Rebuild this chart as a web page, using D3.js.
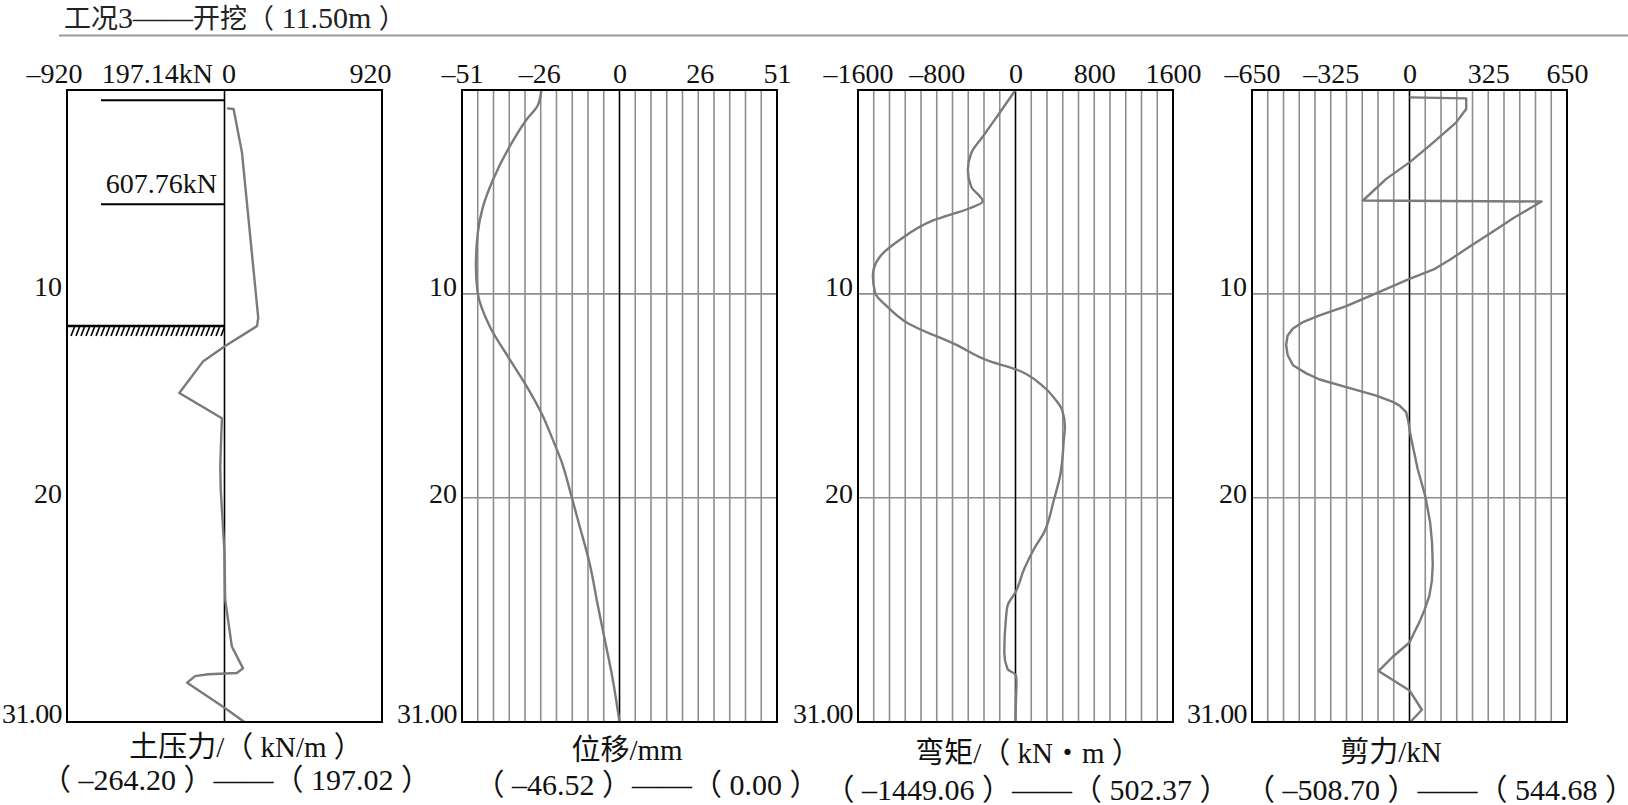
<!DOCTYPE html>
<html><head><meta charset="utf-8">
<script src="https://cdn.jsdelivr.net/npm/d3@7"></script>
<style>body{margin:0;background:#fff}</style>
</head><body><svg id="c" width="1628" height="805"></svg>
<script>
// ---------------- data ----------------
const title = "工况3——开挖（ 11.50m ）";
const depthTicks = [10, 20, 31];
const depthMax = 31;

const panelTitles = ["土压力/（ kN/m ）", "位移/mm", "弯矩/（ kN・m ）", "剪力/kN"];
const panelMin = ["–264.20", "–46.52", "–1449.06", "–508.70"];
const panelMax = ["197.02", "0.00", "502.37", "544.68"];
const panelLimits = [920, 51, 1600, 650];
const panelTicks = [[-920, 0, 920], [-51, -26, 0, 26, 51], [-1600, -800, 0, 800, 1600], [-650, -325, 0, 325, 650]];

const strutDepth = [0.5, 5.6];
const strutLabels = ["197.14kN", "607.76kN"];
const excavationDepth = 11.5;

// soil pressure (kN/m)
const soilDepth = [0.9, 0.93, 3.06, 11.17, 11.58, 12.56, 13.3, 14.86, 16.1, 17.2, 18.46, 19.6, 20.6, 22.7, 25.0, 27.3, 28.37, 28.6, 28.66, 28.75, 29.07, 30.3, 31.0];
const soilValue = [14, 53, 102, 197, 190, 4, -124, -264, -15, -20, -25, -22, -15, 0, 4, 43, 108, 72, -94, -172, -218, 0, 116];

// displacement (mm)
const dispDepth = [0, 0.73, 1.47, 2.78, 4.41, 5.72, 7.02, 8.66, 9.96, 11.6, 13.2, 14.5, 16.0, 17.15, 18.3, 19.9, 21.4, 23.2, 25.3, 27.3, 28.9, 31];
const dispValue = [-25.3, -26.4, -30.2, -35.6, -41.0, -44.2, -45.9, -46.5, -45.9, -42.0, -35.6, -30.2, -24.8, -21.6, -18.6, -15.6, -12.9, -9.7, -7.0, -4.3, -2.2, 0];

// bending moment (kN·m)
const momDepth = [0, 1.14, 2.29, 3.1, 3.92, 4.74, 5.47, 5.8, 6.4, 7.35, 8.17, 9.1, 9.96, 10.6, 11.4, 12.5, 13.3, 13.7, 14.5, 15.2, 15.7, 16.5, 17.2, 18.0, 18.8, 20.1, 21.7, 22.5, 23.5, 24.6, 25.3, 25.9, 27.6, 28.4, 28.7, 29.0, 30.0, 31];
const momValue = [0, -164, -333, -450, -484, -450, -333, -467, -837, -1174, -1376, -1449, -1426, -1308, -1106, -601, -265, 4, 272, 408, 474, 502, 490, 478, 458, 390, 290, 189, 88, 4, -81, -97, -114, -81, 4, 10, 4, 0];

// shear force (kN)
const shearDepth = [0.36, 0.41, 0.93, 1.6, 2.74, 3.55, 4.36, 5.42, 5.47, 6.3, 7.0, 7.65, 8.3, 8.8, 9.26, 9.9, 10.6, 11.06, 11.39, 11.7, 12.04, 12.5, 13.0, 13.5, 13.9, 14.2, 14.57, 14.99, 15.3, 15.48, 15.8, 16.13, 17.1, 18.6, 19.96, 21.2, 22.2, 23.3, 24.1, 24.8, 25.5, 26.1, 26.6, 27.1, 27.8, 28.5, 29.45, 30.4, 31];
const shearValue = [0, 234, 234, 192, 82, 0, -96, -192, 545, 426, 337, 252, 170, 100, 0, -124, -261, -371, -440, -481, -503, -509, -503, -481, -426, -371, -261, -137, -69, -41, -14, -7, 7, 34, 66, 85, 93, 96, 92, 82, 62, 41, 20, 0, -69, -128, 0, 51, 4];

const seriesDepth = [soilDepth, dispDepth, momDepth, shearDepth];
const seriesValue = [soilValue, dispValue, momValue, shearValue];

// ---------------- layout ----------------
const FONT = '"Liberation Serif", "Times New Roman", "Noto Sans CJK SC", serif';
const lefts = [67, 462, 858, 1252];
const boxW = 315, topY = 90, bottomY = 722;
const labelX = [246, 627, 1028, 1391], labelY = [757, 760, 763, 762];
const rangeX = [236, 647, 1027, 1440], rangeY = [790, 795, 800, 800];
const panel1TickDx = [-13, 4, -12];
const curveColor = "#7a7a7a", gridColor = "#8e8e8e";

const svg = d3.select("#c");
svg.append("rect").attr("width", 1628).attr("height", 805).attr("fill", "#fff");

// title: CJK runs and Latin runs in different sizes
const titleText = svg.append("text").attr("x", 64).attr("y", 28).attr("font-family", FONT).attr("fill", "#222");
const runs = title.match(/[\u3000-\u9fff\uff00-\uffef]+|[^\u3000-\u9fff\uff00-\uffef]+/g);
titleText.selectAll("tspan").data(runs).join("tspan")
  .attr("font-size", d => /[\u3000-\u9fff\uff00-\uffef]/.test(d) ? 27 : 30)
  .text(d => d);
svg.append("line").attr("x1", 59).attr("x2", 1628).attr("y1", 35.5).attr("y2", 35.5)
  .attr("stroke", "#9a9a9a").attr("stroke-width", 2);

const y = d3.scaleLinear().domain([0, depthMax]).range([topY, bottomY]);
const fmt = d => (d < 0 ? "–" + Math.abs(d) : String(d));

panelTicks.forEach((ticks, i) => {
  const L = panelLimits[i];
  const x = d3.scaleLinear().domain([-L, L]).range([lefts[i], lefts[i] + boxW]);
  const g = svg.append("g");

  // vertical grid (20 divisions) for panels 2-4
  if (i > 0) {
    const gridVals = d3.range(1, 20).map(k => -L + k * L / 10).filter(v => Math.abs(v) > 1e-9);
    g.selectAll(".vg").data(gridVals).join("line")
      .attr("x1", d => x(d)).attr("x2", d => x(d)).attr("y1", topY).attr("y2", bottomY)
      .attr("stroke", gridColor).attr("stroke-width", 1.6);
    g.selectAll(".hg").data(depthTicks.filter(d => d < depthMax)).join("line")
      .attr("x1", lefts[i]).attr("x2", lefts[i] + boxW).attr("y1", d => y(d)).attr("y2", d => y(d))
      .attr("stroke", gridColor).attr("stroke-width", 1.6);
  }

  // zero line
  g.append("line").attr("x1", x(0)).attr("x2", x(0)).attr("y1", topY).attr("y2", bottomY)
    .attr("stroke", "#000").attr("stroke-width", 1.6);

  // panel 1 extras: struts and excavation level
  if (i === 0) {
    strutDepth.forEach(d => {
      g.append("line").attr("x1", lefts[0] + 34).attr("x2", x(0)).attr("y1", y(d)).attr("y2", y(d))
        .attr("stroke", "#000").attr("stroke-width", 2);
    });
    svg.append("text").attr("x", 213).attr("y", 83).attr("text-anchor", "end")
      .attr("font-family", FONT).attr("font-size", 28).attr("fill", "#111").text(strutLabels[0]);
    svg.append("text").attr("x", 217).attr("y", 193).attr("text-anchor", "end")
      .attr("font-family", FONT).attr("font-size", 28).attr("fill", "#111").text(strutLabels[1]);
    const ye = y(excavationDepth) + 1.5;
    g.append("line").attr("x1", lefts[0]).attr("x2", x(0)).attr("y1", ye).attr("y2", ye)
      .attr("stroke", "#000").attr("stroke-width", 2.5);
    g.selectAll(".hatch").data(d3.range(lefts[0] + 4, x(0) - 2, 5)).join("line")
      .attr("x1", d => d).attr("x2", d => d + 3.5).attr("y1", ye + 10).attr("y2", ye + 1)
      .attr("stroke", "#000").attr("stroke-width", 1.6);
  }

  // data curve
  const pts = d3.zip(seriesDepth[i], seriesValue[i]);
  const line = d3.line().x(d => x(d[1])).y(d => y(d[0]))
    .curve(i === 1 || i === 2 ? d3.curveMonotoneY : d3.curveLinear);
  g.append("path").datum(pts).attr("d", line).attr("fill", "none")
    .attr("stroke", curveColor).attr("stroke-width", 2.4).attr("stroke-linejoin", "round");

  // frame
  g.append("rect").attr("x", lefts[i]).attr("y", topY).attr("width", boxW).attr("height", bottomY - topY)
    .attr("fill", "none").attr("stroke", "#000").attr("stroke-width", 2);

  // top axis
  const ax = svg.append("g").attr("transform", `translate(0,${topY})`)
    .call(d3.axisTop(x).tickValues(ticks).tickSize(0).tickPadding(7).tickFormat(fmt));
  ax.select(".domain").remove();
  ax.attr("font-family", FONT).attr("font-size", 28);
  ax.selectAll("text").attr("fill", "#111");
  if (i === 0) ax.selectAll("text").attr("dx", (d, k) => panel1TickDx[k]);

  // depth axis
  const ay = svg.append("g").attr("transform", `translate(${lefts[i]},0)`)
    .call(d3.axisLeft(y).tickValues(depthTicks).tickSize(0).tickPadding(5)
      .tickFormat(d => (d === depthMax ? "31.00" : String(d))));
  ay.select(".domain").remove();
  ay.attr("font-family", FONT).attr("font-size", 28);
  ay.selectAll("text").attr("fill", "#111").attr("dy", null)
    .attr("letter-spacing", d => (d === depthMax ? -0.6 : 0))
    .attr("y", d => (d === depthMax ? 0 : d === 20 ? 5 : 2));

  // bottom labels
  svg.append("text").attr("x", labelX[i]).attr("y", labelY[i]).attr("text-anchor", "middle")
    .attr("font-family", FONT).attr("font-size", 29).attr("fill", "#111").text(panelTitles[i]);
  svg.append("text").attr("x", rangeX[i]).attr("y", rangeY[i]).attr("text-anchor", "middle")
    .attr("font-family", FONT).attr("font-size", 30).attr("fill", "#111")
    .text(`（ ${panelMin[i]} ）——（ ${panelMax[i]} ）`);
});
</script></body></html>
